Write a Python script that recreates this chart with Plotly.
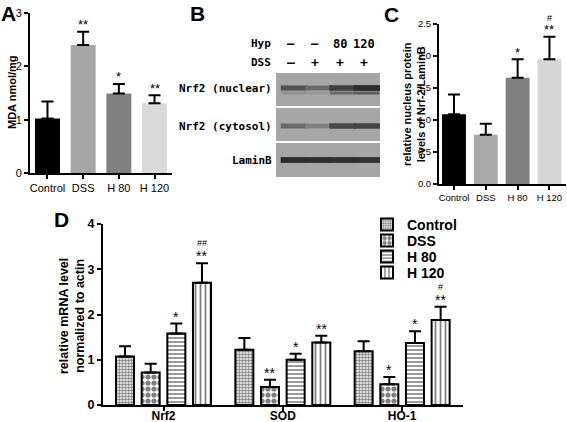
import plotly.graph_objects as go

W, H = 567, 422
def px(x): return x / W
def py(y): return 1 - y / H

FONT = "Arial, Liberation Sans, sans-serif"
MONO = "DejaVu Sans Mono, monospace"

# ---------------- Panel A data ----------------
groups = ["Control", "DSS", "H 80", "H 120"]
mda_mean = [1.02, 2.40, 1.49, 1.31]
mda_err_top = [1.34, 2.65, 1.67, 1.46]
mda_sig = ["", "**", "*", "**"]
colors_A = ["#000000", "#a6a6a6", "#808080", "#d9d9d9"]

# ---------------- Panel C data ----------------
nuc_mean = [1.09, 0.77, 1.66, 1.95]
nuc_err_top = [1.40, 0.94, 1.95, 2.30]
nuc_sig = ["", "", "*", "**"]
nuc_hash = ["", "", "", "#"]
colors_C = ["#000000", "#a8a8a8", "#808080", "#d6d6d6"]

# ---------------- Panel D data ----------------
genes = ["Nrf2", "SOD", "HO-1"]
d_series = ["Control", "DSS", "H 80", "H 120"]
mrna_mean = {
    "Control": [1.07, 1.22, 1.19],
    "DSS": [0.72, 0.40, 0.46],
    "H 80": [1.58, 1.00, 1.37],
    "H 120": [2.70, 1.38, 1.88],
}
mrna_err_top = {
    "Control": [1.30, 1.48, 1.41],
    "DSS": [0.91, 0.56, 0.62],
    "H 80": [1.80, 1.13, 1.63],
    "H 120": [3.13, 1.53, 2.17],
}
mrna_sig = {
    "Control": ["", "", ""],
    "DSS": ["", "**", "*"],
    "H 80": ["*", "*", "*"],
    "H 120": ["**", "**", "**"],
}
mrna_hash = {"Control": ["", "", ""], "DSS": ["", "", ""], "H 80": ["", "", ""], "H 120": ["##", "", "#"]}
patterns = {
    "Control": dict(shape=".", size=3, solidity=0.55),
    "DSS": dict(shape=".", size=6, solidity=0.6),
    "H 80": dict(shape="-", size=4, solidity=0.4),
    "H 120": dict(shape="|", size=5, solidity=0.35),
}
d_offsets = [-0.398, -0.183, 0.032, 0.247]
d_width = 0.151
legend_rows_px = [225, 241, 257, 273]

# ---------------- Panel B (blot) data ----------------
lanes = [1, 2, 3, 4]
hyp_labels = ["—", "—", "80", "120"]
dss_labels = ["—", "+", "+", "+"]
blot_rows = ["Nrf2 (nuclear)", "Nrf2 (cytosol)", "LaminB"]
band_intensity = {
    "Nrf2 (nuclear)": [0.62, 0.45, 0.78, 0.92],
    "Nrf2 (cytosol)": [0.45, 0.28, 0.72, 0.74],
    "LaminB": [0.92, 0.92, 0.9, 0.88],
}
nuclear_lower_band = [0.15, 0.1, 0.45, 0.55]
row_y = {"Nrf2 (nuclear)": 15, "Nrf2 (cytosol)": 53, "LaminB": 87}
strip_bounds = [(0, 33), (35, 68), (70, 104)]

fig = go.Figure()

# Panel A bars
fig.add_trace(go.Bar(
    x=groups, y=mda_mean, marker=dict(color=colors_A, line=dict(width=0)), width=0.7,
    error_y=dict(type="data", symmetric=False, array=[t - m for t, m in zip(mda_err_top, mda_mean)],
                 arrayminus=[0] * 4, color="black", thickness=2, width=6),
    xaxis="x", yaxis="y", showlegend=False))

# Panel C bars
fig.add_trace(go.Bar(
    x=groups, y=nuc_mean, marker=dict(color=colors_C, line=dict(width=0)), width=0.75,
    error_y=dict(type="data", symmetric=False, array=[t - m for t, m in zip(nuc_err_top, nuc_mean)],
                 arrayminus=[0] * 4, color="black", thickness=2, width=6),
    xaxis="x2", yaxis="y2", showlegend=False))

# Panel D bars (each series in its own single-entry legend for tight spacing)
legend_ids = ["legend", "legend2", "legend3", "legend4"]
for i, s in enumerate(d_series):
    p = patterns[s]
    fig.add_trace(go.Bar(
        x=genes, y=mrna_mean[s], name=f"<b>{s}</b>", offset=d_offsets[i], width=d_width,
        marker=dict(color="white", line=dict(color="black", width=2),
                    pattern=dict(shape=p["shape"], size=p["size"], solidity=p["solidity"],
                                 fgcolor="black", bgcolor="white", fillmode="overlay")),
        error_y=dict(type="data", symmetric=False,
                     array=[t - m for t, m in zip(mrna_err_top[s], mrna_mean[s])],
                     arrayminus=[0] * 3, color="black", thickness=2, width=6),
        xaxis="x3", yaxis="y3", showlegend=True, legend=legend_ids[i]))

# Panel B bands
def gray(v):
    g = int(165 - v * 130)
    return f"rgb({g},{g},{g})"

for r in blot_rows:
    fig.add_trace(go.Scatter(
        x=lanes, y=[row_y[r]] * 4, mode="markers",
        marker=dict(symbol="line-ew", size=19,
                    line=dict(width=[4 + 2 * v for v in band_intensity[r]],
                              color=[gray(v) for v in band_intensity[r]])),
        xaxis="x4", yaxis="y4", showlegend=False, hoverinfo="skip"))
fig.add_trace(go.Scatter(
    x=lanes, y=[row_y["Nrf2 (nuclear)"] + 5] * 4, mode="markers",
    marker=dict(symbol="line-ew", size=18,
                line=dict(width=3, color=[gray(v) for v in nuclear_lower_band])),
    xaxis="x4", yaxis="y4", showlegend=False, hoverinfo="skip"))

shapes = []
for (y0, y1) in strip_bounds:
    shapes.append(dict(type="rect", xref="x4 domain", yref="y4", x0=0, x1=1, y0=y0, y1=y1,
                       fillcolor="#a6a6a6", line=dict(width=0), layer="below"))

ann = []
def add_text(xref, yref, x, y, text, size, family=FONT, xanchor="center", textangle=0, xshift=0, yshift=0):
    ann.append(dict(xref=xref, yref=yref, x=x, y=y, text=text, showarrow=False,
                    xanchor=xanchor, yanchor="middle", textangle=textangle,
                    xshift=xshift, yshift=yshift,
                    font=dict(family=family, size=size, color="black")))

for i in range(4):
    if mda_sig[i]:
        add_text("x", "y", i, mda_err_top[i], mda_sig[i], 13, yshift=7)
    if nuc_sig[i]:
        add_text("x2", "y2", i, nuc_err_top[i], nuc_sig[i], 13, yshift=7)
    if nuc_hash[i]:
        add_text("x2", "y2", i, nuc_err_top[i], nuc_hash[i], 9, yshift=19)
for i, s in enumerate(d_series):
    for g in range(3):
        xc = g + d_offsets[i] + d_width / 2
        if mrna_sig[s][g]:
            add_text("x3", "y3", xc, mrna_err_top[s][g], mrna_sig[s][g], 14, yshift=7)
        if mrna_hash[s][g]:
            add_text("x3", "y3", xc, mrna_err_top[s][g], mrna_hash[s][g], 9, yshift=20)

# Panel letters
for t, x, y in [("A", 8, 13), ("B", 197, 13), ("C", 391, 14), ("D", 61, 219)]:
    add_text("paper", "paper", px(x), py(y), f"<b>{t}</b>", 21)

# y-axis titles
add_text("paper", "paper", px(12), py(92), "<b>MDA nmol/mg</b>", 11, textangle=-90)
add_text("paper", "paper", px(414), py(104), "<b>relative nucleus protein<br>levels of Nrf-2/LaminB</b>",
         11, textangle=-90)
add_text("paper", "paper", px(72), py(316), "<b>relative mRNA level<br>normalized to actin</b>",
         12.5, textangle=-90)

# Blot labels
for i, lane in enumerate(lanes):
    add_text("x4", "paper", lane, py(44), f"<b>{hyp_labels[i]}</b>", 12, family=MONO, xshift=-3)
    add_text("x4", "paper", lane, py(63), f"<b>{dss_labels[i]}</b>", 13, family=MONO, xshift=-3)
add_text("paper", "paper", px(273), py(44), "<b>Hyp</b>", 11, family=MONO, xanchor="right")
add_text("paper", "paper", px(273), py(63), "<b>DSS</b>", 11, family=MONO, xanchor="right")
for r in blot_rows:
    add_text("paper", "y4", px(274), row_y[r], f"<b>{r}</b>", 11, family=MONO, xanchor="right")

axis_common = dict(showline=True, linecolor="black", linewidth=2, ticks="outside", ticklen=4,
                   tickwidth=2, tickcolor="black", showgrid=False, zeroline=False, fixedrange=True,
                   automargin=False)

legend_style = dict(xanchor="left", yanchor="middle", bgcolor="rgba(0,0,0,0)",
                    font=dict(family=FONT, size=14, color="black"),
                    itemclick=False, itemdoubleclick=False, borderwidth=0)

fig.update_layout(
    width=W, height=H, margin=dict(l=0, r=0, t=0, b=0, pad=0, autoexpand=False),
    paper_bgcolor="white", plot_bgcolor="rgba(0,0,0,0)",
    barmode="overlay", shapes=shapes, annotations=ann,
    xaxis=dict(axis_common, domain=[px(30), px(172)], range=[-0.49, 3.49], anchor="y",
               tickfont=dict(family=FONT, size=11, color="black")),
    yaxis=dict(axis_common, domain=[py(173), py(13)], range=[0, 3], dtick=1, anchor="x",
               tickfont=dict(family=FONT, size=11, color="black")),
    xaxis2=dict(axis_common, domain=[px(439), px(566)], range=[-0.47, 3.52], anchor="y2",
                tickfont=dict(family=FONT, size=9.5, color="black")),
    yaxis2=dict(axis_common, domain=[py(184), py(24)], range=[0, 2.5], dtick=0.5, tickformat=".1f",
                anchor="x2", tickfont=dict(family=FONT, size=9.5, color="black")),
    xaxis3=dict(axis_common, domain=[px(103), px(463)], range=[-0.507, 2.51], anchor="y3",
                ticklabelstandoff=-5,
                tickfont=dict(family=FONT, size=12, color="black"), tickprefix="<b>", ticksuffix="</b>"),
    yaxis3=dict(axis_common, domain=[py(405), py(224)], range=[0, 4], dtick=1, anchor="x3",
                tickfont=dict(family=FONT, size=12.5, color="black"), tickprefix="<b>", ticksuffix="</b>"),
    xaxis4=dict(domain=[px(276), px(380)], range=[0.26, 4.54], visible=False, anchor="y4", fixedrange=True),
    yaxis4=dict(domain=[py(177), py(73)], range=[104, 0], visible=False, anchor="x4", fixedrange=True),
    legend=dict(legend_style, x=px(367), y=py(legend_rows_px[0])),
    legend2=dict(legend_style, x=px(367), y=py(legend_rows_px[1])),
    legend3=dict(legend_style, x=px(367), y=py(legend_rows_px[2])),
    legend4=dict(legend_style, x=px(367), y=py(legend_rows_px[3])),
)

fig.write_html("out.html", config={"displayModeBar": False},
               post_script="document.body.style.margin='0';document.body.style.padding='0';"
                           "document.documentElement.style.overflow='hidden';")
